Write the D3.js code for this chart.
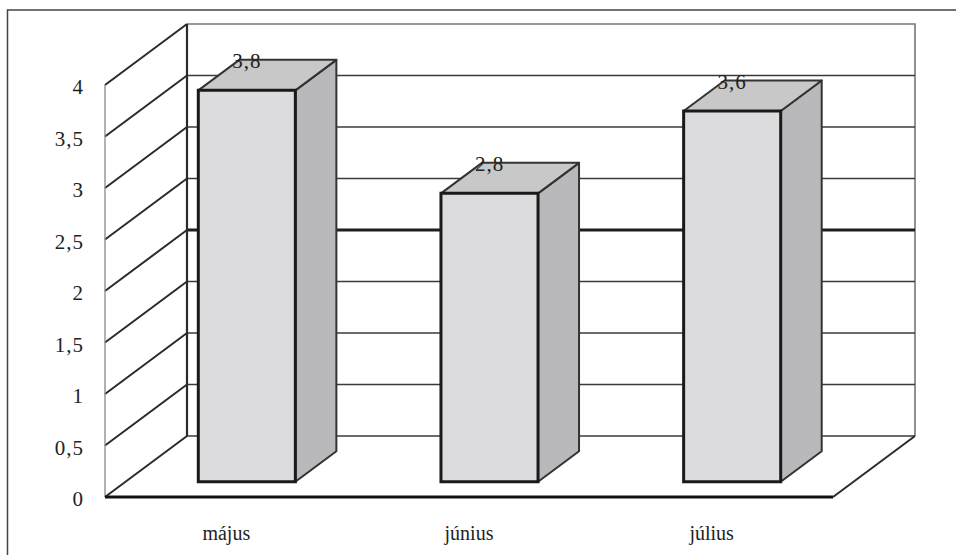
<!DOCTYPE html>
<html>
<head>
<meta charset="utf-8">
<script src="https://cdn.jsdelivr.net/npm/d3@7"></script>
<style>
  html, body { margin: 0; padding: 0; background: #fff; }
  svg { display: block; }
</style>
</head>
<body>
<svg id="chart" width="956" height="555"></svg>
<script>
// Monthly values
const months = ["május", "június", "július"];
const values = [3.8, 2.8, 3.6];
const valueLabels = ["3,8", "2,8", "3,6"];
// Value axis ticks
const tickValues = [0, 0.5, 1, 1.5, 2, 2.5, 3, 3.5, 4];
const tickLabels = ["0", "0,5", "1", "1,5", "2", "2,5", "3", "3,5", "4"];

const FONT = "'Liberation Serif', 'Times New Roman', Times, 'DejaVu Serif', serif";

const svg = d3.select("#chart");

// Front plane of the 3D box and the depth vector
const x0 = 105, plotW = 728;
const DX = 82, DY = 61;
const zFront = 0.25, zBack = 0.75;

const y = d3.scaleLinear().domain([0, 4]).range([497, 85]);
const xBand = d3.scaleBand().domain(months).range([0, plotW]).padding(0);
const barW = xBand.bandwidth() * 0.4;

// project (x along front plane, value, depth 0..1) to screen
const P = (x, v, z) => [x0 + x + z * DX, y(v) - z * DY];
const poly = pts => "M" + pts.map(p => p.join(",")).join("L") + "Z";

// outer frame
svg.append("rect")
  .attr("x", 7.5).attr("y", 10).attr("width", 1000).attr("height", 600)
  .attr("fill", "none").attr("stroke", "#444").attr("stroke-width", 1.5);

const g = svg.append("g");

// back wall outline (top and right edge)
g.append("path")
  .attr("d", "M" + P(0, 4, 1).join(",") + "L" + P(plotW, 4, 1).join(",") + "L" + P(plotW, 0, 1).join(","))
  .attr("fill", "none").attr("stroke", "#777").attr("stroke-width", 1.6);

// back wall gridlines
g.selectAll("line.grid").data(tickValues.filter(v => v < 4)).join("line")
  .attr("class", "grid")
  .attr("x1", v => P(0, v, 1)[0]).attr("y1", v => P(0, v, 1)[1])
  .attr("x2", v => P(plotW, v, 1)[0]).attr("y2", v => P(plotW, v, 1)[1])
  .attr("stroke", v => v === 2 ? "#1e1e1e" : "#3a3a3a")
  .attr("stroke-width", v => v === 2 ? 3.2 : 1.4);

// side wall diagonals
g.selectAll("line.diag").data(tickValues).join("line")
  .attr("class", "diag")
  .attr("x1", v => P(0, v, 0)[0]).attr("y1", v => P(0, v, 0)[1])
  .attr("x2", v => P(0, v, 1)[0]).attr("y2", v => P(0, v, 1)[1])
  .attr("stroke", "#2a2a2a").attr("stroke-width", 2);

// side wall front edge
g.append("line")
  .attr("x1", P(0, 0, 0)[0]).attr("y1", P(0, 0, 0)[1])
  .attr("x2", P(0, 4, 0)[0]).attr("y2", P(0, 4, 0)[1])
  .attr("stroke", "#888").attr("stroke-width", 1.3);

// back wall left edge
g.append("line")
  .attr("x1", P(0, 0, 1)[0]).attr("y1", P(0, 0, 1)[1])
  .attr("x2", P(0, 4, 1)[0]).attr("y2", P(0, 4, 1)[1])
  .attr("stroke", "#2a2a2a").attr("stroke-width", 2.2);

// floor: front edge and right diagonal
g.append("line")
  .attr("x1", P(0, 0, 0)[0]).attr("y1", P(0, 0, 0)[1])
  .attr("x2", P(plotW, 0, 0)[0]).attr("y2", P(plotW, 0, 0)[1])
  .attr("stroke", "#111").attr("stroke-width", 3.2);
g.append("line")
  .attr("x1", P(plotW, 0, 0)[0]).attr("y1", P(plotW, 0, 0)[1])
  .attr("x2", P(plotW, 0, 1)[0]).attr("y2", P(plotW, 0, 1)[1])
  .attr("stroke", "#2a2a2a").attr("stroke-width", 2);

// bars
const data = months.map((m, i) => ({ m, v: values[i], label: valueLabels[i] }));
const bars = g.selectAll("g.bar").data(data).join("g").attr("class", "bar");

bars.each(function (d) {
  const b = d3.select(this);
  const bx = xBand(d.m) + (xBand.bandwidth() - barW) / 2;
  const side = [P(bx + barW, 0, zFront), P(bx + barW, 0, zBack), P(bx + barW, d.v, zBack), P(bx + barW, d.v, zFront)];
  const top = [P(bx, d.v, zFront), P(bx + barW, d.v, zFront), P(bx + barW, d.v, zBack), P(bx, d.v, zBack)];
  const front = [P(bx, 0, zFront), P(bx + barW, 0, zFront), P(bx + barW, d.v, zFront), P(bx, d.v, zFront)];
  b.append("path").attr("d", poly(side))
    .attr("fill", "#b9b9bb").attr("stroke", "#333").attr("stroke-width", 2).attr("stroke-linejoin", "round");
  b.append("path").attr("d", poly(top))
    .attr("fill", "#c8c8c8").attr("stroke", "#333").attr("stroke-width", 2).attr("stroke-linejoin", "round");
  b.append("path").attr("d", poly(front))
    .attr("fill", "#dcdcde").attr("stroke", "#1a1a1a").attr("stroke-width", 3).attr("stroke-linejoin", "miter");
  const c = P(bx + barW / 2, d.v, zFront);
  b.append("text")
    .attr("x", c[0]).attr("y", c[1] - 22)
    .attr("text-anchor", "middle")
    .attr("font-family", FONT).attr("font-size", 21).attr("fill", "#222")
    .attr("letter-spacing", 1)
    .text(d.label);
});

// value axis labels
g.selectAll("text.tick").data(tickValues).join("text")
  .attr("class", "tick")
  .attr("x", 84).attr("y", v => y(v) + 2)
  .attr("dy", "0.35em")
  .attr("text-anchor", "end")
  .attr("font-family", FONT).attr("font-size", 21).attr("fill", "#222")
  .attr("letter-spacing", 1)
  .text((v, i) => tickLabels[i]);

// category labels
g.selectAll("text.cat").data(months).join("text")
  .attr("class", "cat")
  .attr("x", m => x0 + xBand(m) + xBand.bandwidth() / 2)
  .attr("y", 540)
  .attr("text-anchor", "middle")
  .attr("font-family", FONT).attr("font-size", 20).attr("fill", "#222")
  .text(m => m);
</script>
</body>
</html>
